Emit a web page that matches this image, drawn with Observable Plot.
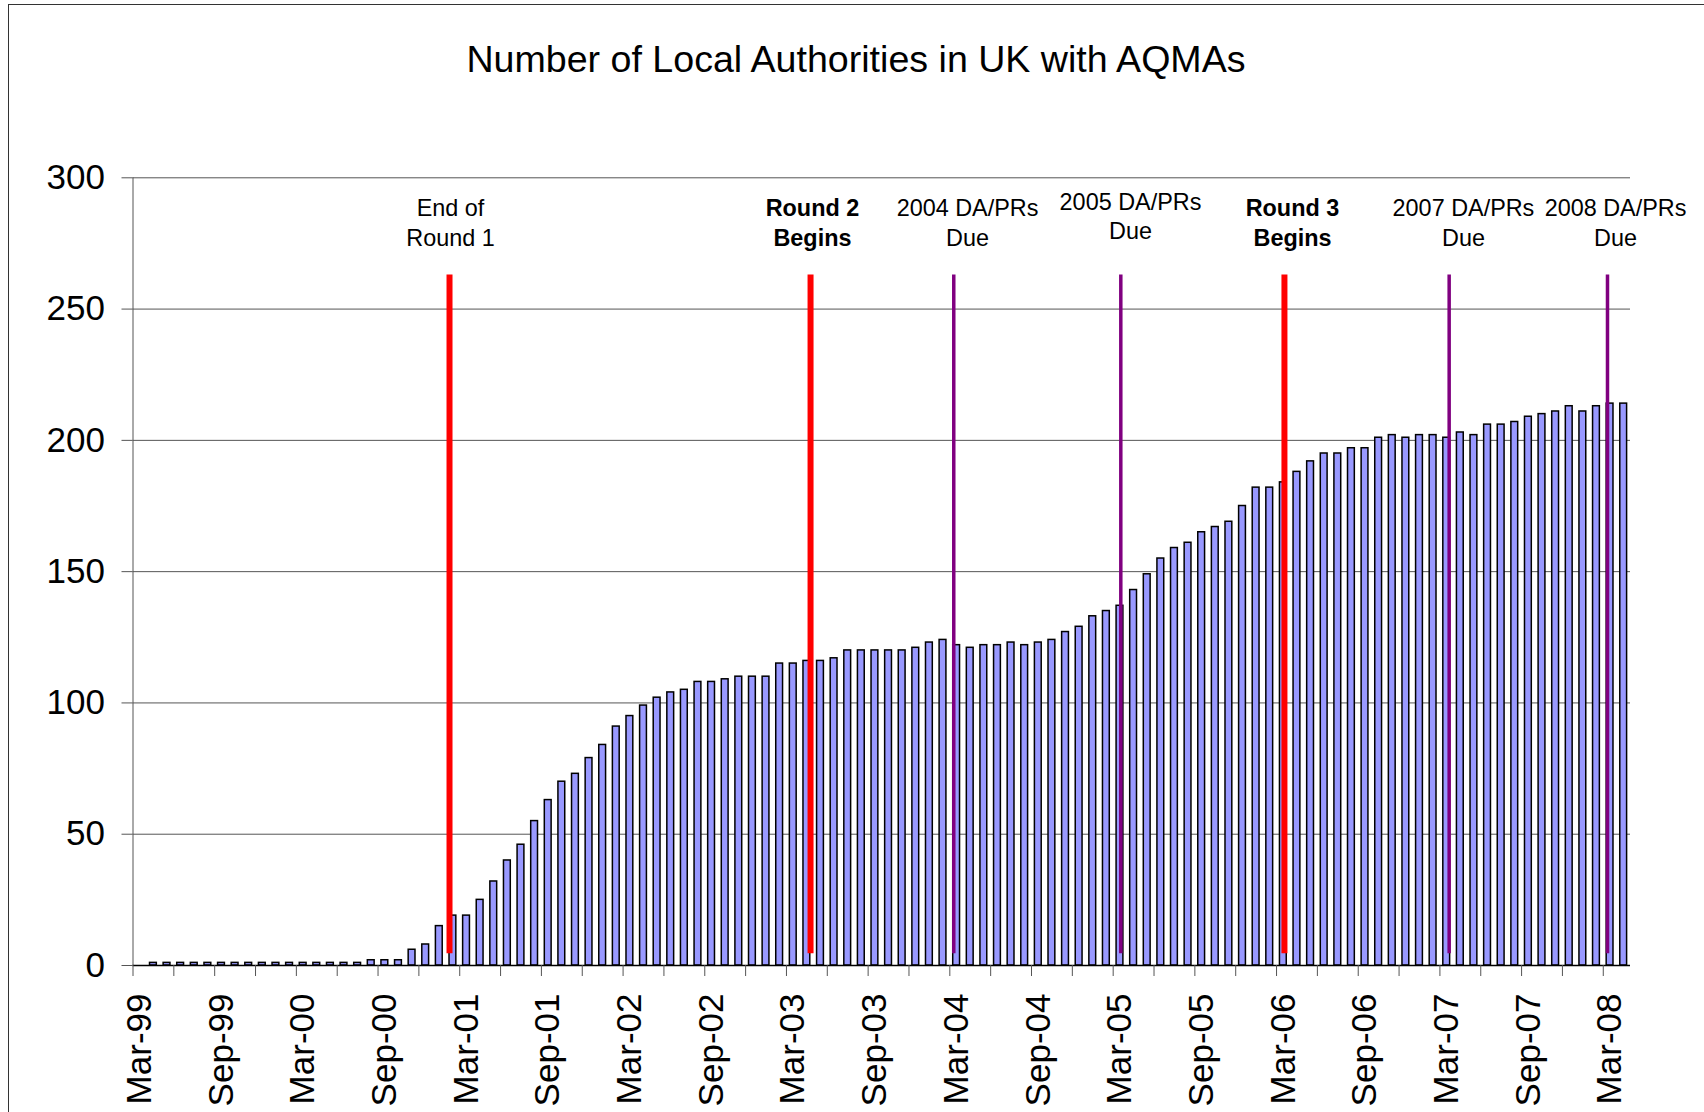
<!DOCTYPE html>
<html>
<head>
<meta charset="utf-8">
<script src="https://cdn.jsdelivr.net/npm/d3@7"></script>
<script src="https://cdn.jsdelivr.net/npm/@observablehq/plot@0.6"></script>
<style>
  html, body { margin: 0; padding: 0; background: #fff; }
  #page { position: relative; width: 1704px; height: 1112px; overflow: hidden;
          font-family: "Liberation Sans", Arial, sans-serif; background: #fff; }
  #frame { position: absolute; left: 7.5px; top: 4px; width: 3000px; height: 3000px;
           border-left: 1.5px solid #333; border-top: 1.5px solid #333; }
  #title { position: absolute; left: 8px; width: 1696px; top: 41px; text-align: center;
           font-size: 37.6px; line-height: 37px; color: #000; }
  #chart { position: absolute; left: 0; top: 110px; }
</style>
</head>
<body>
<div id="page">
  <div id="frame"></div>
  <div id="title">Number of Local Authorities in UK with AQMAs</div>
  <div id="chart"></div>
</div>
<script>
// ---- Data ----
const firstMonth = new Date(Date.UTC(1999, 2, 1));   // Mar-99
const lastMonthExclusive = new Date(Date.UTC(2008, 4, 1)); // up to Apr-08
const months = d3.utcMonth.range(firstMonth, lastMonthExclusive).map(d3.utcFormat("%b-%y"));

const values = [
  0,
  1, 1, 1, 1, 1, 1, 1, 1, 1, 1, 1, 1, 1, 1, 1, 1,
  2, 2, 2,
  6, 8, 15, 19, 19, 25, 32, 40,
  46, 55, 63, 70, 73, 79, 84, 91, 95, 99,
  102, 104, 105, 108, 108, 109, 110, 110, 110, 115,
  115, 116, 116, 117, 120, 120, 120, 120, 120, 121,
  123, 124, 122, 121, 122, 122, 123, 122, 123, 124,
  127, 129, 133, 135, 137, 143, 149, 155, 159, 161,
  165, 167, 169, 175, 182, 182, 184, 188, 192, 195,
  195, 197, 197, 201, 202, 201, 202, 202, 201, 203,
  202, 206, 206, 207, 209, 210, 211, 213, 211, 213,
  214, 214
];

const tickLabels = ["Mar-99", "Sep-99", "Mar-00", "Sep-00", "Mar-01", "Sep-01", "Mar-02",
  "Sep-02", "Mar-03", "Sep-03", "Mar-04", "Sep-04", "Mar-05", "Sep-05", "Mar-06",
  "Sep-06", "Mar-07", "Sep-07", "Mar-08"];

const yTicks = [0, 50, 100, 150, 200, 250, 300];

const eventLabels = ["End of\nRound 1", "Round 2\nBegins", "2004 DA/PRs\nDue", "2005 DA/PRs\nDue",
  "Round 3\nBegins", "2007 DA/PRs\nDue", "2008 DA/PRs\nDue"];
// event time, in months after Mar-99
const eventMonths = [23.25, 49.77, 60.29, 72.56, 84.58, 96.68, 108.31];
const eventTypes = ["end", "begin", "due", "due", "begin", "due", "due"];

// ---- Layout (annotation placement) ----
const labelMonthShift = [0.07, 0.14, 1.01, 0.71, 0.59, 1.05, 0.59];
const labelLift = [0, 0, 0, 2.5, 0, 0, 0];
const labelY = 283.3;
const markerBottom = 4.5, markerTop = 263;

// ---- Build ----
const bars = values.map((v, i) => ({i, v, month: months[i]}));
const events = eventLabels.map((label, k) => ({
  label, month: eventMonths[k], type: eventTypes[k],
  labelMonth: eventMonths[k] + labelMonthShift[k], labelY: labelY + labelLift[k]
}));
const isRound = e => e.type === "end" || e.type === "begin";
const tickIdx = d3.range(0, values.length, 3);
const labelPos = tickLabels.map(l => months.indexOf(l) + 0.5);
const labelText = new Map(labelPos.map((p, k) => [p, tickLabels[k]]));

const font = '"Liberation Sans", Arial, sans-serif';

const chart = Plot.plot({
  width: 1704,
  height: 1002,
  marginLeft: 132.5,
  marginRight: 74,
  marginTop: 67.3,
  marginBottom: 147,
  x: {domain: [0, values.length], axis: null},
  y: {domain: [0, 300], axis: null},
  style: {fontFamily: font, color: "#000", background: "transparent", overflow: "visible"},
  marks: [
    Plot.gridY(yTicks.filter(d => d > 0), {stroke: "#555", strokeOpacity: 1, strokeWidth: 1}),
    Plot.ruleX([0], {y1: 0, y2: 300, stroke: "#555", strokeWidth: 1}),
    Plot.rect(bars.filter(d => d.v > 0), {
      x1: "i", x2: d => d.i + 1, y1: 0, y2: "v",
      insetLeft: 3.4, insetRight: 3.4,
      fill: "#9999ff", stroke: "#000", strokeWidth: 1.5
    }),
    Plot.ruleY([0], {stroke: "#000", strokeWidth: 1.5}),
    Plot.axisY(yTicks, {
      tickSize: 11, tickPadding: 17, fontSize: 35, stroke: "#555", label: null, fill: "#000"
    }),
    Plot.axisX(tickIdx, {
      tickSize: 11, tickFormat: () => "", stroke: "#555", label: null
    }),
    Plot.axisX(labelPos, {
      tickSize: 0, tickPadding: 28, tickRotate: -90, fontSize: 35,
      tickFormat: d => labelText.get(d), label: null, fill: "#000"
    }),
    Plot.ruleX(events.filter(isRound), {
      x: "month", y1: markerBottom, y2: markerTop, stroke: "#ff0000", strokeWidth: 6
    }),
    Plot.ruleX(events.filter(e => e.type === "due"), {
      x: "month", y1: markerBottom, y2: markerTop, stroke: "#800080", strokeWidth: 3.5
    }),
    Plot.text(events.filter(e => e.type === "begin"), {
      x: "labelMonth", y: "labelY", text: "label", fontSize: 23.4, fontWeight: "bold",
      lineHeight: 1.26, lineAnchor: "middle", fill: "#000"
    }),
    Plot.text(events.filter(e => e.type !== "begin"), {
      x: "labelMonth", y: "labelY", text: "label", fontSize: 23.4,
      lineHeight: 1.26, lineAnchor: "middle", fill: "#000"
    })
  ]
});
document.getElementById("chart").appendChild(chart);
</script>
</body>
</html>
